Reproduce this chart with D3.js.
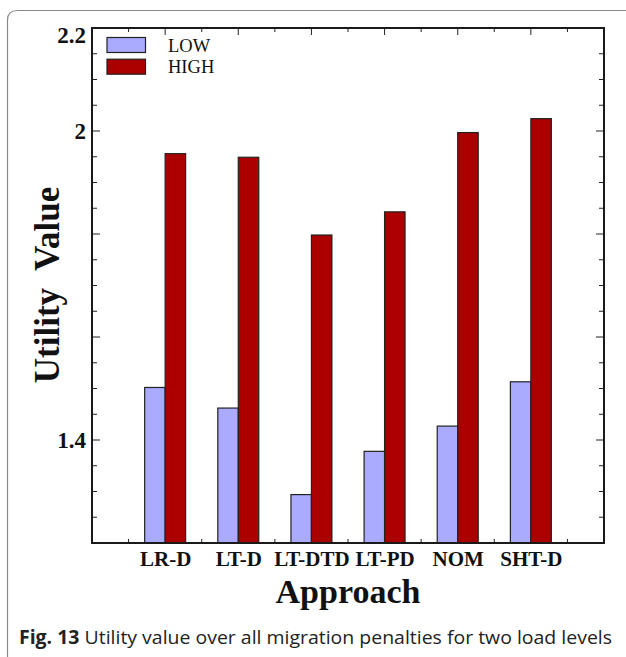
<!DOCTYPE html>
<html>
<head>
<meta charset="utf-8">
<script src="https://cdn.jsdelivr.net/npm/d3@7"></script>
<style>
  html, body { margin: 0; padding: 0; background: #fff; }
  svg { display: block; }
</style>
</head>
<body>
<svg id="chart" width="626" height="657"></svg>
<script>
// Utility value per approach, for the two load levels
const approaches = ["LR-D", "LT-D", "LT-DTD", "LT-PD", "NOM", "SHT-D"];
const lowValues  = [1.502, 1.462, 1.294, 1.378, 1.427, 1.513];
const highValues = [1.956, 1.949, 1.798, 1.843, 1.997, 2.024];
const seriesNames = ["LOW", "HIGH"];
const seriesColors = ["#aaaaff", "#aa0000"];
const yTickLabels = [1.4, 2, 2.2];

const svg = d3.select("#chart");
const serif = "'Liberation Serif', 'Times New Roman', serif";

// card outline around figure and caption
svg.append("path")
  .attr("d", "M7.5,657 L7.5,20 Q7.5,10.5 17.5,10.5 L626,10.5")
  .attr("fill", "none").attr("stroke", "#8a8a8a").attr("stroke-width", 1.2);

const plot = { left: 92, right: 604, top: 28, bottom: 543 };

// categories sit at positions 1..6 of a 0..7 linear axis
const x = d3.scaleLinear().domain([0, 7]).range([plot.left, plot.right]);
const y = d3.scaleLinear().domain([1.2, 2.2]).range([plot.bottom, plot.top]);
const barW = x(0.28) - x(0);

const g = svg.append("g");

// bars
const series = [lowValues, highValues];
series.forEach((vals, s) => {
  g.selectAll(null).data(vals).enter().append("rect")
    .attr("x", (d, i) => s === 0 ? x(i + 1) - barW : x(i + 1))
    .attr("y", d => y(d))
    .attr("width", barW)
    .attr("height", d => y(1.2) - y(d))
    .attr("fill", seriesColors[s])
    .attr("stroke", "#222").attr("stroke-width", 1.2);
});

// left axis: minor ticks every 0.05, major every 0.2
const yMinor = d3.range(1.2, 2.2001, 0.05).map(v => +v.toFixed(2));
const isMajor = v => Math.abs(Math.round(v * 5) - v * 5) < 1e-6;
const leftAxis = d3.axisLeft(y).tickValues(yMinor).tickSize(0).tickFormat("");
g.append("g").attr("transform", `translate(${plot.left},0)`).call(leftAxis)
  .call(a => a.select(".domain").remove());
g.selectAll(null).data(yMinor).enter().append("line")
  .attr("x1", plot.left).attr("x2", d => plot.left + (isMajor(d) ? 8 : 5))
  .attr("y1", d => y(d)).attr("y2", d => y(d))
  .attr("stroke", "#222").attr("stroke-width", 1);
g.selectAll(null).data(yMinor).enter().append("line")
  .attr("x1", plot.right).attr("x2", d => plot.right - (isMajor(d) ? 8 : 5))
  .attr("y1", d => y(d)).attr("y2", d => y(d))
  .attr("stroke", "#222").attr("stroke-width", 1);

// y tick labels
g.selectAll(null).data(yTickLabels).enter().append("text")
  .attr("x", plot.left - 6)
  .attr("y", d => y(d) + (d === 2.2 ? 15 : 8))
  .attr("text-anchor", "end")
  .attr("font-family", serif).attr("font-weight", "bold").attr("font-size", 23)
  .attr("fill", "#111")
  .text(d => d);

// top and bottom ticks: integers long, halves short
const xTicks = d3.range(0.5, 7, 0.5);
g.selectAll(null).data(xTicks).enter().append("line")
  .attr("x1", d => x(d)).attr("x2", d => x(d))
  .attr("y1", plot.top).attr("y2", d => plot.top + (d % 1 === 0 ? 7 : 4))
  .attr("stroke", "#222").attr("stroke-width", 1);
g.selectAll(null).data(xTicks.filter(d => d % 1 !== 0)).enter().append("line")
  .attr("x1", d => x(d)).attr("x2", d => x(d))
  .attr("y1", plot.bottom).attr("y2", plot.bottom - 4)
  .attr("stroke", "#222").attr("stroke-width", 1);

// category labels via bottom axis
const bottomAxis = d3.axisBottom(x).tickValues(d3.range(1, 7))
  .tickSize(0).tickFormat(d => approaches[d - 1]);
g.append("g").attr("transform", `translate(0,${plot.bottom})`).call(bottomAxis)
  .call(a => a.select(".domain").remove())
  .call(a => a.selectAll("text")
    .attr("dy", 0).attr("y", 23)
    .attr("font-family", serif).attr("font-weight", "bold").attr("font-size", 21)
    .attr("fill", "#111"));

// frame
g.append("rect")
  .attr("x", plot.left).attr("y", plot.top)
  .attr("width", plot.right - plot.left).attr("height", plot.bottom - plot.top)
  .attr("fill", "none").attr("stroke", "#1a1a1a").attr("stroke-width", 2);

// axis titles
svg.append("text")
  .attr("transform", "translate(59,285) rotate(-90)")
  .attr("text-anchor", "middle")
  .attr("font-family", serif).attr("font-weight", "bold").attr("font-size", 35)
  .attr("fill", "#111")
  .attr("xml:space", "preserve")
  .style("white-space", "pre")
  .text("Utility  Value");
svg.append("text")
  .attr("x", 348).attr("y", 603)
  .attr("text-anchor", "middle")
  .attr("font-family", serif).attr("font-weight", "bold").attr("font-size", 34)
  .attr("fill", "#111")
  .text("Approach");

// legend
const legend = svg.append("g");
seriesNames.forEach((name, i) => {
  legend.append("rect")
    .attr("x", 107).attr("y", 37.5 + i * 21.7)
    .attr("width", 38.5).attr("height", 15)
    .attr("fill", seriesColors[i]).attr("stroke", "#222").attr("stroke-width", 1.2);
  legend.append("text")
    .attr("x", 168).attr("y", 51.5 + i * 21.7)
    .attr("font-family", serif).attr("font-size", 18.5).attr("fill", "#111")
    .text(name);
});

// caption
const cap = svg.append("text")
  .attr("x", 19).attr("y", 644)
  .attr("font-family", "'Open Sans', 'Noto Sans', sans-serif").attr("font-size", 19)
  .attr("fill", "#222")
  .attr("textLength", 593).attr("lengthAdjust", "spacingAndGlyphs");
cap.append("tspan").attr("font-weight", "bold").text("Fig. 13");
cap.append("tspan").text(" Utility value over all migration penalties for two load levels");
</script>
</body>
</html>
